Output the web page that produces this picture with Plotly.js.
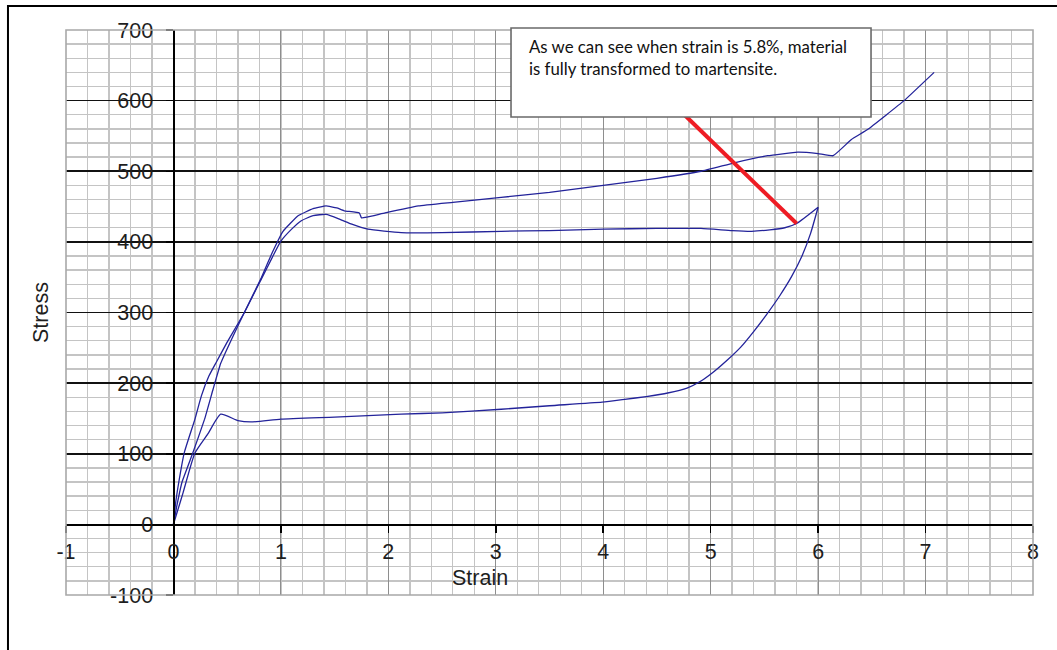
<!DOCTYPE html>
<html>
<head>
<meta charset="utf-8">
<script src="https://cdn.plot.ly/plotly-3.0.1.min.js"></script>
<style>
  html, body { margin: 0; padding: 0; background: #fff; }
  #chart { width: 1057px; height: 650px; }
</style>
</head>
<body>
<div id="chart"></div>
<script>
// ---- Data ----
// Loading curve that continues to 7.1 % strain
const loadA_strain = [0, 0.03, 0.08, 0.18, 0.29, 0.37, 0.44, 0.55, 0.66, 0.82, 0.92, 1.02, 1.16, 1.3, 1.42, 1.52, 1.59, 1.73, 1.75, 1.8, 1.97, 2.28, 2.6, 3.05, 3.5, 4.0, 4.5, 4.91, 5.22, 5.53, 5.81, 6.0, 6.14, 6.31, 6.46, 6.8, 7.08];
const loadA_stress = [0, 25, 60, 101, 149, 192, 228, 265, 300, 350, 385, 415, 437, 447, 451, 448, 444, 441, 434, 435, 441, 451, 456, 463, 470, 480, 490, 500, 512, 522, 527, 525, 522, 545, 559, 600, 640];

// Loading branch of the 6 % loop
const loadB_strain = [0, 0.02, 0.05, 0.10, 0.2, 0.26, 0.33, 0.40, 0.5, 0.66, 0.82, 0.92, 1.0, 1.1, 1.19, 1.3, 1.42, 1.55, 1.66, 1.81, 2.12, 2.5, 3.05, 3.5, 4.0, 4.5, 4.91, 5.2, 5.38, 5.55, 5.69, 5.8, 6.0];
const loadB_stress = [0, 30, 60, 101, 149, 182, 210, 230, 258, 300, 348, 378, 401, 418, 430, 437, 439, 432, 425, 418, 413, 413, 415, 416, 418, 419, 419, 416, 415, 417, 420, 426, 449];

// Unloading branch of the 6 % loop
const unload_strain = [6.0, 5.93, 5.85, 5.75, 5.64, 5.52, 5.40, 5.28, 5.15, 5.02, 4.91, 4.78, 4.6, 4.4, 4.2, 3.99, 3.5, 3.05, 2.5, 2.12, 1.5, 1.0, 0.72, 0.6, 0.44, 0.32, 0.2, 0.09, 0.04, 0];
const unload_stress = [449, 412, 380, 350, 323, 297, 273, 251, 232, 215, 203, 193, 186, 181, 177, 173, 168, 163, 158, 156, 152, 149, 145, 147, 156, 128, 101, 45, 20, 0];

// Axis ticks
const xTicks = [-1, 0, 1, 2, 3, 4, 5, 6, 7, 8];
const yTicks = [-100, 0, 100, 200, 300, 400, 500, 600, 700];

// Callout
const calloutText = "As we can see when strain is 5.8%, material<br>is fully transformed to martensite.";
const calloutStrain = 5.8;

// ---- Build chart ----
const lineColor = '#23239a';
const mkTrace = (x, y, name, smooth) => ({
  type: 'scatter', mode: 'lines', x: x, y: y, name: name,
  line: { color: lineColor, width: 1.3, shape: smooth ? 'spline' : 'linear', smoothing: smooth || 0 },
  hoverinfo: 'skip', showlegend: false
});

const traces = [
  mkTrace(loadA_strain, loadA_stress, 'Loading to 7.1%', 0.3),
  mkTrace(loadB_strain, loadB_stress, 'Loading to 6%', 0.5),
  mkTrace(unload_strain, unload_stress, 'Unloading from 6%', 0.5)
];

const calloutStress = loadB_stress[loadB_strain.indexOf(calloutStrain)];

const tickFont = { family: 'Liberation Sans, Arial, sans-serif', size: 21.5, color: '#1e1e1e' };

const layout = {
  width: 1057, height: 650,
  margin: { l: 66, r: 24, t: 30, b: 55, pad: 0 },
  paper_bgcolor: '#ffffff', plot_bgcolor: '#ffffff',
  showlegend: false,
  xaxis: {
    range: [xTicks[0], xTicks[xTicks.length - 1]],
    tickmode: 'array', tickvals: xTicks, ticktext: xTicks.map(String),
    anchor: 'free', position: 0.125,
    showline: true, linecolor: '#000', linewidth: 1.5,
    ticks: 'outside', ticklen: 7, tickwidth: 1.5, tickcolor: '#000',
    showgrid: true, gridcolor: '#8e8e8e', gridwidth: 1.2,
    zeroline: false,
    minor: { dtick: 0.2, tick0: 0, showgrid: true, gridcolor: '#c4c4c4', gridwidth: 1.4, ticks: '' },
    tickfont: tickFont, automargin: false, fixedrange: true
  },
  yaxis: {
    range: [yTicks[0], yTicks[yTicks.length - 1]],
    tickmode: 'array', tickvals: yTicks, ticktext: yTicks.map(String),
    anchor: 'free', position: 1 / 9,
    showline: true, linecolor: '#000', linewidth: 1.5,
    ticks: 'outside', ticklen: 7, tickwidth: 1.5, tickcolor: '#000',
    ticklabelstandoff: 9,
    showgrid: true, gridcolor: '#111', gridwidth: 1.6,
    zeroline: false,
    minor: { dtick: 20, tick0: 0, showgrid: true, gridcolor: '#c4c4c4', gridwidth: 1.4, ticks: '' },
    tickfont: tickFont, automargin: false, fixedrange: true,
    title: { text: 'Stress', font: tickFont, standoff: 54 }
  },
  shapes: [
    // plot-area border
    { type: 'rect', xref: 'paper', yref: 'paper', x0: 0, x1: 1, y0: 0, y1: 1,
      line: { color: '#a8a8a8', width: 1.6 }, fillcolor: 'rgba(0,0,0,0)', layer: 'above' },
    // outer chart frame
    { type: 'rect', xref: 'paper', yref: 'paper', x0: -0.06, x1: 1.3, y0: -0.3, y1: 1.0425,
      line: { color: '#000', width: 2 }, fillcolor: 'rgba(0,0,0,0)', layer: 'above' },
    // red pointer
    { type: 'line', xref: 'x', yref: 'y', x0: 4.755, y0: 580, x1: calloutStrain, y1: calloutStress,
      line: { color: '#ee1c24', width: 4 }, layer: 'above' },
    // callout box
    { type: 'rect', xref: 'paper', yref: 'paper', x0: 0.4602, x1: 0.8325, y0: 0.846, y1: 1.0035,
      line: { color: '#6a6a6a', width: 1.6 }, fillcolor: '#ffffff', layer: 'above' }
  ],
  annotations: [
    { xref: 'paper', yref: 'paper', x: 0.4768, y: 0.993, xanchor: 'left', yanchor: 'top',
      align: 'left', showarrow: false, text: calloutText,
      font: { family: 'Lato, Carlito, Calibri, sans-serif', size: 16.8, color: '#111' } },
    { xref: 'paper', yref: 'paper', x: 0.4280, y: 0.030, xanchor: 'center', yanchor: 'middle',
      showarrow: false, borderpad: 0, text: 'Strain', font: tickFont }
  ]
};

Plotly.newPlot('chart', traces, layout, { displayModeBar: false, staticPlot: true });
</script>
</body>
</html>
